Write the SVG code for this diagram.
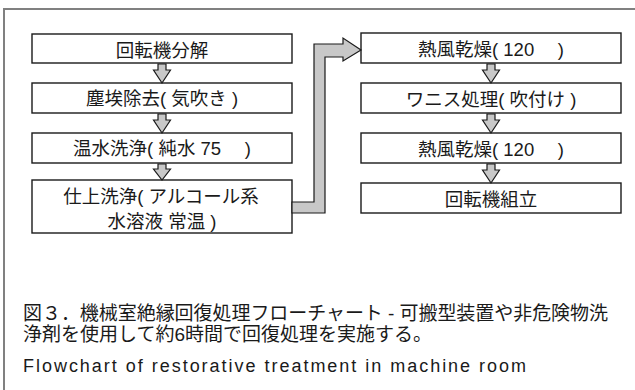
<svg xmlns="http://www.w3.org/2000/svg" width="635" height="390" viewBox="0 0 635 390">
<style>
.box{fill:#fff;stroke:#1a1a1a;stroke-width:1.4}
.arr{fill:#c8c8c8;stroke:#1a1a1a;stroke-width:1.2;stroke-linejoin:miter}
.t{font-family:"Liberation Sans","Noto Sans CJK JP",sans-serif;font-size:18.5px;fill:#1a1a1a;text-anchor:middle;white-space:pre}
.c{font-family:"Liberation Sans","Noto Sans CJK JP",sans-serif;font-size:19px;fill:#1a1a1a;white-space:pre}
</style>
<rect x="4" y="9" width="700" height="450" fill="#fff" stroke="#808080" stroke-width="2"/>
<g id="n1"><rect class="box" x="32" y="34" width="260" height="29"/><text class="t" x="162" y="57" xml:space="preserve">回転機分解</text></g>
<g id="n2"><rect class="box" x="32" y="83" width="260" height="30"/><text class="t" x="162" y="105" xml:space="preserve">塵埃除去( 気吹き )</text></g>
<g id="n3"><rect class="box" x="32" y="133" width="260" height="30"/><text class="t" x="162" y="155" xml:space="preserve">温水洗浄( 純水 75　 )</text></g>
<g id="n4"><rect class="box" x="32" y="180" width="260" height="53"/><text class="t" x="161" y="203" xml:space="preserve">仕上洗浄( アルコール系</text><text class="t" x="162" y="228" xml:space="preserve">水溶液 常温 )</text></g>
<g id="n5"><rect class="box" x="361" y="33" width="260" height="30"/><text class="t" x="491" y="56" xml:space="preserve">熱風乾燥( 120　 )</text></g>
<g id="n6"><rect class="box" x="361" y="83" width="260" height="30"/><text class="t" x="491" y="106" xml:space="preserve">ワニス処理( 吹付け )</text></g>
<g id="n7"><rect class="box" x="361" y="133" width="260" height="30"/><text class="t" x="491" y="156" xml:space="preserve">熱風乾燥( 120　 )</text></g>
<g id="n8"><rect class="box" x="361" y="183" width="260" height="30"/><text class="t" x="491" y="206" xml:space="preserve">回転機組立</text></g>
<g id="connectors">
<path class="arr" d="M158,64 H166 V70 H170.5 L162,83 L153.5,70 H158 Z"/>
<path class="arr" d="M158,114 H166 V120 H170.5 L162,133 L153.5,120 H158 Z"/>
<path class="arr" d="M158,164 H166 V169 H170.5 L162,180 L153.5,169 H158 Z"/>
<path class="arr" d="M487,64 H495 V70 H499.5 L491,83 L482.5,70 H487 Z"/>
<path class="arr" d="M487,114 H495 V120 H499.5 L491,133 L482.5,120 H487 Z"/>
<path class="arr" d="M487,164 H495 V170 H499.5 L491,183 L482.5,170 H487 Z"/>
<path class="arr" d="M292,202 H314 V44 H343 V38 L361,50 L343,61 V57 H325 V213 H292 Z"/>
</g>
<g id="caption">
<text class="c" x="23" y="320" textLength="585" lengthAdjust="spacing" xml:space="preserve">図３．機械室絶縁回復処理フローチャート - 可搬型装置や非危険物洗</text>
<text class="c" x="23" y="341" xml:space="preserve">浄剤を使用して約6時間で回復処理を実施する。</text>
<text class="c" x="23" y="372" style="font-size:18px" textLength="503" lengthAdjust="spacing" xml:space="preserve">Flowchart of restorative treatment in machine room</text>
</g>
</svg>
